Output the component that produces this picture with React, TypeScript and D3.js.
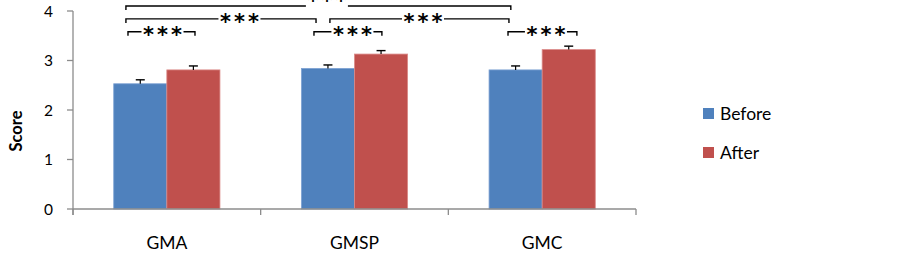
import React from "react";
import * as d3 from "d3";

const categories = ["GMA", "GMSP", "GMC"];
const seriesNames = ["Before", "After"];
const beforeValues = [2.53, 2.84, 2.81];
const afterValues = [2.81, 3.13, 3.22];
const beforeErrors = [0.08, 0.07, 0.08];
const afterErrors = [0.08, 0.07, 0.07];
const yTicks = [0, 1, 2, 3, 4];
// brackets: endpoints in category units, level in score units, label position in category units
const bracketX1 = [0.282, 0.282, 1.369, 0.293, 1.284, 2.318];
const bracketX2 = [2.333, 1.295, 2.323, 0.65, 1.646, 2.685];
const bracketLevel = [4.1, 3.84, 3.84, 3.58, 3.58, 3.58];
const bracketLabelX = [1.353, 0.887, 1.865, 0.477, 1.489, 2.52];
const bracketLabelRaised = [true, false, false, false, false, false];
const bracketLabel = ["***", "***", "***", "***", "***", "***"];

const colors = ["#4F81BD", "#C0504D"];
const edge = ["#7FA3D3", "#DB8A88"];
const FONT = "Lato, 'Open Sans', sans-serif";

export default function App() {
  const W = 903, H = 253;
  const x0 = 73, x1 = 636, yTop = 11, yBot = 209;
  const y = d3.scaleLinear().domain([0, 4]).range([yBot, yTop]);
  const xb = d3.scaleBand().domain(categories).range([x0, x1]).paddingInner(0).paddingOuter(0);
  const xu = d3.scaleLinear().domain([0, 3]).range([x0, x1]);
  const bw = xb.bandwidth();
  const barW = bw * 0.283;
  const series = [beforeValues, afterValues];
  const errs = [beforeErrors, afterErrors];
  const axisColor = "#8C8C8C";
  const gap = 21;

  return (
    <svg width={W} height={H} style={{ position: "absolute", left: 0, top: 0, background: "#fff" }} fontFamily={FONT}>
      {/* bars */}
      {categories.map((c, i) => {
        const cx = (xb(c) as number) + bw / 2;
        return (
          <g key={c}>
            {series.map((vals, s) => {
              const bx = cx - barW + s * barW;
              const top = y(vals[i]);
              const ex = bx + barW / 2;
              const et = y(vals[i] + errs[s][i]);
              return (
                <g key={s}>
                  <rect x={bx} y={top} width={barW} height={yBot - top} fill={colors[s]} stroke={edge[s]} strokeWidth={0.8} />
                  <line x1={ex} x2={ex} y1={top} y2={et} stroke="#000" strokeWidth={1.2} />
                  <line x1={ex - 4.5} x2={ex + 4.5} y1={et} y2={et} stroke="#000" strokeWidth={1.4} />
                </g>
              );
            })}
          </g>
        );
      })}
      {/* y axis */}
      <line x1={x0} x2={x0} y1={yTop} y2={yBot + 6} stroke={axisColor} strokeWidth={1.3} />
      {yTicks.map((t) => (
        <g key={t}>
          <line x1={x0 - 6} x2={x0} y1={y(t)} y2={y(t)} stroke={axisColor} strokeWidth={1.3} />
          <text x={53} y={y(t)} dy="0.36em" textAnchor="end" fontSize={15.5} fill="#000">{t}</text>
        </g>
      ))}
      {/* x axis */}
      <line x1={x0} x2={x1} y1={yBot} y2={yBot} stroke={axisColor} strokeWidth={1.3} />
      {[0, 1, 2, 3].map((k) => (
        <line key={k} x1={xu(k)} x2={xu(k)} y1={yBot} y2={yBot + 6} stroke={axisColor} strokeWidth={1.3} />
      ))}
      {categories.map((c) => (
        <text key={c} x={(xb(c) as number) + bw / 2} y={249} textAnchor="middle" fontSize={17.5} fill="#000">{c}</text>
      ))}
      <text transform={`translate(22,131) rotate(-90)`} textAnchor="middle" fontSize={16.5} fontWeight="bold" fill="#000">Score</text>
      {/* brackets */}
      {bracketX1.map((bx1, i) => {
        const a = xu(bx1), b = xu(bracketX2[i]), ly = y(bracketLevel[i]);
        const lx = xu(bracketLabelX[i]);
        const d = `M${a},${ly + 4}V${ly}H${lx - gap}M${lx + gap},${ly}H${b}V${ly + 4}`;
        const ty = bracketLabelRaised[i] ? ly + 2 : ly + 10.5;
        return (
          <g key={i}>
            <path d={d} fill="none" stroke="#000" strokeWidth={1.4} />
            <text x={lx} dx={1.5} y={ty} textAnchor="middle" fontSize={21} fontWeight="bold" letterSpacing={3} fontFamily="'DejaVu Sans', sans-serif" fill="#000">{bracketLabel[i]}</text>
          </g>
        );
      })}
      {/* legend */}
      {seriesNames.map((n, s) => (
        <g key={n}>
          <rect x={703} y={108 + s * 39} width={11} height={11} fill={colors[s]} />
          <text x={720} y={120 + s * 39} fontSize={17.5} fill="#000">{n}</text>
        </g>
      ))}
    </svg>
  );
}
